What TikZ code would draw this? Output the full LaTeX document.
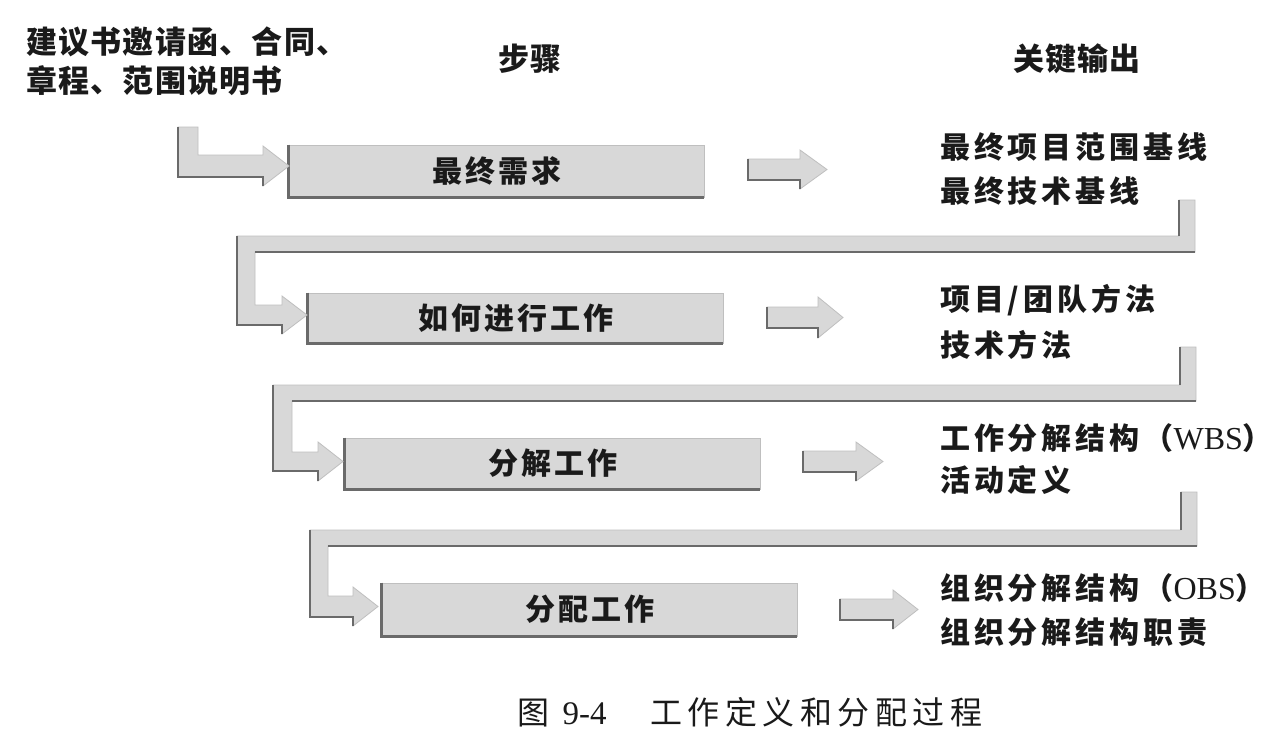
\documentclass[tikz,border=0pt]{standalone}
\usepackage{fontspec}
\setmainfont{Noto Sans CJK SC}
\newfontfamily\latinserif{Liberation Serif}
\definecolor{blockgray}{HTML}{D8D8D8}
\definecolor{rimgray}{HTML}{6A6A6A}
\definecolor{inkc}{HTML}{1A1A1A}
\begin{document}
\begin{tikzpicture}[x=1pt,y=-1pt,
  blk/.style={fill=blockgray, draw=gray!50, line width=0.8pt, line join=miter},
  rim/.style={draw=rimgray, line width=2.4pt, line cap=butt, line join=miter},
  hdr/.style={font=\fontsize{31}{36}\selectfont\bfseries\addfontfeature{LetterSpace=4}, text=inkc, inner sep=0pt},
  outtxt/.style={font=\fontsize{30}{36}\selectfont\bfseries\addfontfeature{LetterSpace=13}, text=inkc, inner sep=0pt, anchor=west},
  stepbox/.style={fill=blockgray, draw=gray!50, line width=0.8pt, inner sep=0pt, minimum width=415pt,
    font=\fontsize{30}{36}\selectfont\bfseries\addfontfeature{LetterSpace=10}, text=inkc},
  captxt/.style={font=\fontsize{32}{36}\selectfont\addfontfeature{LetterSpace=17}, text=inkc, inner sep=0pt}
]
\useasboundingbox (0,0) rectangle (1280,736);
\fill[white] (0,0) rectangle (1280,736);

% headers
\node[hdr, anchor=west] (in1) at (26,42) {建议书邀请函、合同、};
\node[hdr, anchor=west] (in2) at (26,81) {章程、范围说明书};
\node[hdr] (hstep) at (530,59) {步骤};
\node[hdr] (hout) at (1077,59) {关键输出};

% step boxes
\node[stepbox, minimum height=52pt] (b1) at (496.5,171) {最终需求};
\node[stepbox, minimum height=50pt] (b2) at (515.5,318) {如何进行工作};
\node[stepbox, minimum height=51pt] (b3) at (552.5,463.5) {分解工作};
\node[stepbox, minimum height=53pt] (b4) at (589.5,609.5) {分配工作};
\foreach \b in {b1,b2,b3,b4}{
  \draw[rim] (\b.north west) -- (\b.south west) -- (\b.south east);
}

% outputs
\node[outtxt] (o1a) at (940,147) {最终项目范围基线};
\node[outtxt] (o1b) at (940,191) {最终技术基线};
\node[outtxt] (o2a) at (940,300) {项目/团队方法};
\node[outtxt] (o2b) at (940,345) {技术方法};
\node[outtxt] (o3a) at (940,438) {工作分解结构（{\latinserif\mdseries\fontsize{32}{36}\selectfont WBS}）};
\node[outtxt] (o3b) at (940,480) {活动定义};
\node[outtxt] (o4a) at (940,588) {组织分解结构（{\latinserif\mdseries\fontsize{32}{36}\selectfont OBS}）};
\node[outtxt] (o4b) at (940,632) {组织分解结构职责};

% entry connector (inputs -> b1)
\filldraw[blk] (178,127) -- (198,127) -- (198,155) -- (263,155) -- (263,146) -- (289,166) -- (263,186) -- (263,177) -- (178,177) -- cycle;
\draw[rim] (178,127) -- (178,177) -- (263,177) -- (263,186);

% small arrows (box -> outputs)
\filldraw[blk] (748,159) -- (800,159) -- (800,150) -- (827,169.5) -- (800,189) -- (800,180) -- (748,180) -- cycle;
\draw[rim] (748,159) -- (748,180) -- (800,180) -- (800,189);
\filldraw[blk] (767,307) -- (818,307) -- (818,297) -- (843,317.5) -- (818,338) -- (818,328) -- (767,328) -- cycle;
\draw[rim] (767,307) -- (767,328) -- (818,328) -- (818,338);
\filldraw[blk] (803,451) -- (856,451) -- (856,442) -- (883,461.5) -- (856,481) -- (856,472) -- (803,472) -- cycle;
\draw[rim] (803,451) -- (803,472) -- (856,472) -- (856,481);
\filldraw[blk] (840,599) -- (893,599) -- (893,590) -- (918,609.5) -- (893,629) -- (893,620) -- (840,620) -- cycle;
\draw[rim] (840,599) -- (840,620) -- (893,620) -- (893,629);

% return connector 1 (outputs 1 -> b2)
\filldraw[blk] (1179,200) -- (1195,200) -- (1195,252) -- (255,252) -- (255,305) -- (282,305) -- (282,296) -- (307,315) -- (282,334) -- (282,325) -- (237,325) -- (237,236) -- (1179,236) -- cycle;
\draw[rim] (1179,200) -- (1179,236);
\draw[rim] (1195,252) -- (255,252);
\draw[rim] (237,236) -- (237,325) -- (282,325) -- (282,334);

% return connector 2 (outputs 2 -> b3)
\filldraw[blk] (1180,347) -- (1196,347) -- (1196,401) -- (292,401) -- (292,452) -- (318,452) -- (318,442) -- (343,461.5) -- (318,481) -- (318,471) -- (273,471) -- (273,385) -- (1180,385) -- cycle;
\draw[rim] (1180,347) -- (1180,385);
\draw[rim] (1196,401) -- (292,401);
\draw[rim] (273,385) -- (273,471) -- (318,471) -- (318,481);

% return connector 3 (outputs 3 -> b4)
\filldraw[blk] (1181,492) -- (1197,492) -- (1197,546) -- (328,546) -- (328,596) -- (353,596) -- (353,587) -- (378,606.5) -- (353,626) -- (353,617) -- (310,617) -- (310,530) -- (1181,530) -- cycle;
\draw[rim] (1181,492) -- (1181,530);
\draw[rim] (1197,546) -- (328,546);
\draw[rim] (310,530) -- (310,617) -- (353,617) -- (353,626);

% caption
\node[captxt] (cap) at (750,712) {图 {\latinserif\fontsize{33}{36}\selectfont 9-4}\hspace{44pt}工作定义和分配过程};
\end{tikzpicture}
\end{document}
